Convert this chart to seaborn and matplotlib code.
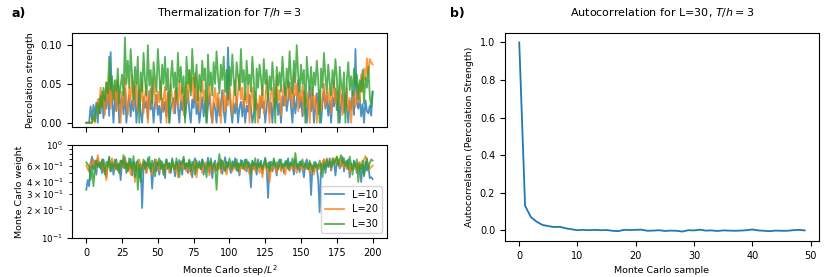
"""Thermalization and autocorrelation plots for the percolation Monte Carlo run."""


# Import libraries
import numpy as np
import pandas as pd
import matplotlib
matplotlib.use('Agg')
import matplotlib.pyplot as plt
import seaborn as sns


# Percolation strength per Monte Carlo step / L^2 (steps 0..200)
perc_L10 = [
    0.0, 0.0, 0.0, 0.021, 0.004, 0.023, 0.010, 0.026, 0.0, 0.031,
    0.012, 0.040, 0.006, 0.034, 0.018, 0.046, 0.009, 0.091, 0.028, 0.0,
    0.038, 0.015, 0.052, 0.0, 0.026, 0.033, 0.011, 0.044, 0.0, 0.021,
    0.035, 0.008, 0.029, 0.015, 0.048, 0.0, 0.022, 0.037, 0.012, 0.0,
    0.033, 0.019, 0.028, 0.005, 0.041, 0.017, 0.030, 0.0, 0.024, 0.036,
    0.010, 0.022, 0.0, 0.031, 0.014, 0.027, 0.008, 0.039, 0.0, 0.018,
    0.026, 0.032, 0.012, 0.045, 0.020, 0.0, 0.029, 0.016, 0.034, 0.006,
    0.023, 0.041, 0.015, 0.0, 0.030, 0.019, 0.046, 0.011, 0.025, 0.0,
    0.017, 0.033, 0.008, 0.028, 0.0, 0.021, 0.037, 0.013, 0.0, 0.026,
    0.018, 0.0, 0.031, 0.009, 0.024, 0.042, 0.015, 0.0, 0.028, 0.097,
    0.040, 0.016, 0.0, 0.025, 0.012, 0.033, 0.0, 0.019, 0.027, 0.008,
    0.030, 0.0, 0.022, 0.014, 0.036, 0.020, 0.0, 0.011, 0.029, 0.017,
    0.024, 0.006, 0.033, 0.019, 0.027, 0.0, 0.021, 0.038, 0.013, 0.026,
    0.0, 0.031, 0.018, 0.043, 0.010, 0.025, 0.0, 0.034, 0.022, 0.046,
    0.015, 0.030, 0.052, 0.020, 0.0, 0.037, 0.012, 0.028, 0.055, 0.019,
    0.033, 0.008, 0.041, 0.024, 0.0, 0.029, 0.047, 0.015, 0.036, 0.0,
    0.022, 0.038, 0.011, 0.030, 0.0, 0.026, 0.042, 0.018, 0.035, 0.009,
    0.028, 0.0, 0.033, 0.021, 0.044, 0.016, 0.030, 0.0, 0.025, 0.039,
    0.013, 0.034, 0.022, 0.0, 0.028, 0.017, 0.041, 0.010, 0.095, 0.026,
    0.018, 0.033, 0.008, 0.024, 0.0, 0.029, 0.015, 0.012, 0.022, 0.009,
    0.040]
perc_L20 = [
    0.0, 0.0, 0.0, 0.0, 0.0, 0.008, 0.0, 0.015, 0.030, 0.012,
    0.045, 0.020, 0.038, 0.010, 0.052, 0.025, 0.060, 0.018, 0.042, 0.030,
    0.048, 0.015, 0.055, 0.033, 0.0, 0.040, 0.022, 0.058, 0.028, 0.010,
    0.045, 0.030, 0.062, 0.020, 0.038, 0.052, 0.015, 0.043, 0.027, 0.055,
    0.012, 0.036, 0.048, 0.0, 0.030, 0.044, 0.021, 0.058, 0.035, 0.018,
    0.040, 0.026, 0.053, 0.015, 0.032, 0.047, 0.0, 0.038, 0.024, 0.050,
    0.030, 0.012, 0.042, 0.035, 0.020, 0.055, 0.028, 0.045, 0.010, 0.037,
    0.052, 0.025, 0.068, 0.040, 0.058, 0.030, 0.064, 0.022, 0.048, 0.015,
    0.035, 0.055, 0.028, 0.042, 0.010, 0.038, 0.050, 0.020, 0.0, 0.032,
    0.045, 0.018, 0.038, 0.025, 0.0, 0.030, 0.042, 0.015, 0.036, 0.022,
    0.048, 0.028, 0.010, 0.035, 0.055, 0.020, 0.040, 0.062, 0.030, 0.045,
    0.018, 0.038, 0.025, 0.050, 0.0, 0.032, 0.045, 0.015, 0.040, 0.028,
    0.0, 0.035, 0.020, 0.048, 0.012, 0.030, 0.055, 0.025, 0.0, 0.038,
    0.045, 0.018, 0.032, 0.060, 0.028, 0.042, 0.010, 0.035, 0.050, 0.022,
    0.038, 0.055, 0.030, 0.045, 0.020, 0.065, 0.035, 0.050, 0.015, 0.042,
    0.028, 0.048, 0.010, 0.035, 0.022, 0.040, 0.0, 0.030, 0.045, 0.018,
    0.035, 0.0, 0.025, 0.042, 0.015, 0.033, 0.050, 0.020, 0.038, 0.028,
    0.045, 0.012, 0.035, 0.055, 0.025, 0.040, 0.018, 0.048, 0.030, 0.010,
    0.038, 0.022, 0.045, 0.015, 0.032, 0.0, 0.028, 0.040, 0.020, 0.035,
    0.050, 0.025, 0.062, 0.040, 0.070, 0.055, 0.083, 0.060, 0.082, 0.078,
    0.075]
perc_L30 = [
    0.0, 0.0, 0.0, 0.0, 0.0, 0.010, 0.002, 0.018, 0.025, 0.012,
    0.035, 0.020, 0.045, 0.028, 0.052, 0.038, 0.085, 0.042, 0.060, 0.030,
    0.055, 0.040, 0.070, 0.025, 0.048, 0.062, 0.035, 0.110, 0.050, 0.080,
    0.045, 0.095, 0.060, 0.030, 0.072, 0.050, 0.085, 0.0, 0.065, 0.040,
    0.090, 0.055, 0.035, 0.100, 0.048, 0.068, 0.025, 0.078, 0.058, 0.040,
    0.095, 0.062, 0.030, 0.075, 0.050, 0.085, 0.042, 0.070, 0.0, 0.058,
    0.080, 0.045, 0.065, 0.030, 0.090, 0.052, 0.072, 0.038, 0.060, 0.0,
    0.085, 0.050, 0.068, 0.035, 0.095, 0.058, 0.045, 0.075, 0.028, 0.062,
    0.040, 0.080, 0.055, 0.070, 0.0, 0.088, 0.048, 0.065, 0.035, 0.078,
    0.050, 0.092, 0.060, 0.038, 0.075, 0.055, 0.085, 0.040, 0.068, 0.030,
    0.072, 0.048, 0.088, 0.055, 0.035, 0.078, 0.060, 0.042, 0.095, 0.052,
    0.068, 0.030, 0.080, 0.050, 0.062, 0.040, 0.085, 0.055, 0.0, 0.070,
    0.045, 0.075, 0.058, 0.035, 0.082, 0.050, 0.068, 0.028, 0.060, 0.042,
    0.078, 0.052, 0.0, 0.072, 0.048, 0.065, 0.040, 0.085, 0.055, 0.035,
    0.070, 0.045, 0.092, 0.058, 0.038, 0.080, 0.052, 0.100, 0.062, 0.040,
    0.075, 0.050, 0.068, 0.0, 0.085, 0.058, 0.042, 0.072, 0.035, 0.065,
    0.048, 0.080, 0.055, 0.0, 0.070, 0.045, 0.090, 0.060, 0.038, 0.075,
    0.052, 0.035, 0.068, 0.045, 0.082, 0.058, 0.0, 0.072, 0.050, 0.040,
    0.065, 0.0, 0.055, 0.078, 0.042, 0.060, 0.035, 0.070, 0.048, 0.062,
    0.030, 0.055, 0.040, 0.068, 0.025, 0.058, 0.045, 0.072, 0.035, 0.020,
    0.040]

# Monte Carlo weight per step (steps 0..200)
weight_L10 = [
    0.33, 0.42, 0.36, 0.62, 0.75, 0.55, 0.68, 0.48, 0.72, 0.58,
    0.65, 0.50, 0.70, 0.55, 0.45, 0.62, 0.73, 0.52, 0.66, 0.48,
    0.60, 0.70, 0.53, 0.64, 0.42, 0.68, 0.57, 0.74, 0.50, 0.63,
    0.55, 0.71, 0.47, 0.66, 0.58, 0.52, 0.69, 0.45, 0.62, 0.21,
    0.58, 0.67, 0.50, 0.72, 0.56, 0.63, 0.34, 0.60, 0.70, 0.52,
    0.65, 0.48, 0.68, 0.57, 0.62, 0.44, 0.70, 0.55, 0.64, 0.50,
    0.72, 0.58, 0.46, 0.66, 0.53, 0.69, 0.60, 0.48, 0.71, 0.56,
    0.63, 0.50, 0.68, 0.57, 0.45, 0.65, 0.72, 0.52, 0.60, 0.67,
    0.55, 0.70, 0.48, 0.62, 0.58, 0.73, 0.51, 0.66, 0.44, 0.60,
    0.68, 0.53, 0.64, 0.57, 0.70, 0.49, 0.62, 0.74, 0.55, 0.65,
    0.58, 0.50, 0.67, 0.60, 0.72, 0.53, 0.64, 0.47, 0.69, 0.56,
    0.62, 0.70, 0.52, 0.66, 0.58, 0.35, 0.68, 0.55, 0.63, 0.48,
    0.70, 0.57, 0.65, 0.50, 0.62, 0.73, 0.55, 0.27, 0.66, 0.58,
    0.52, 0.68, 0.60, 0.47, 0.64, 0.70, 0.55, 0.62, 0.50, 0.67,
    0.58, 0.72, 0.53, 0.65, 0.60, 0.48, 0.69, 0.56, 0.63, 0.51,
    0.67, 0.58, 0.45, 0.62, 0.70, 0.55, 0.64, 0.29, 0.60, 0.52,
    0.66, 0.57, 0.42, 0.19, 0.63, 0.55, 0.70, 0.50, 0.65, 0.58,
    0.72, 0.53, 0.62, 0.68, 0.47, 0.64, 0.70, 0.56, 0.60, 0.74,
    0.52, 0.66, 0.58, 0.70, 0.45, 0.63, 0.55, 0.68, 0.60, 0.50,
    0.64, 0.57, 0.40, 0.62, 0.48, 0.66, 0.53, 0.60, 0.44, 0.45,
    0.43]
weight_L20 = [
    0.60, 0.55, 0.52, 0.65, 0.58, 0.70, 0.62, 0.56, 0.78, 0.64,
    0.58, 0.68, 0.52, 0.62, 0.42, 0.60, 0.66, 0.55, 0.72, 0.60,
    0.54, 0.65, 0.58, 0.50, 0.68, 0.62, 0.57, 0.73, 0.60, 0.52,
    0.66, 0.48, 0.62, 0.58, 0.40, 0.64, 0.55, 0.70, 0.60, 0.53,
    0.65, 0.58, 0.50, 0.67, 0.62, 0.55, 0.48, 0.63, 0.57, 0.70,
    0.60, 0.53, 0.66, 0.58, 0.48, 0.62, 0.56, 0.64, 0.50, 0.60,
    0.57, 0.65, 0.52, 0.60, 0.45, 0.62, 0.58, 0.68, 0.55, 0.60,
    0.52, 0.64, 0.58, 0.48, 0.62, 0.55, 0.66, 0.45, 0.60, 0.57,
    0.63, 0.50, 0.58, 0.65, 0.55, 0.60, 0.47, 0.62, 0.57, 0.52,
    0.64, 0.58, 0.55, 0.62, 0.50, 0.60, 0.66, 0.54, 0.48, 0.60,
    0.57, 0.63, 0.52, 0.60, 0.55, 0.66, 0.58, 0.50, 0.62, 0.56,
    0.60, 0.53, 0.65, 0.58, 0.48, 0.62, 0.55, 0.60, 0.52, 0.64,
    0.57, 0.50, 0.62, 0.45, 0.58, 0.65, 0.53, 0.60, 0.40, 0.56,
    0.62, 0.55, 0.60, 0.50, 0.58, 0.64, 0.52, 0.60, 0.56, 0.48,
    0.62, 0.57, 0.53, 0.60, 0.55, 0.65, 0.58, 0.50, 0.62, 0.57,
    0.60, 0.53, 0.58, 0.64, 0.55, 0.60, 0.50, 0.62, 0.57, 0.48,
    0.60, 0.55, 0.62, 0.58, 0.52, 0.65, 0.70, 0.60, 0.72, 0.65,
    0.60, 0.55, 0.68, 0.72, 0.63, 0.75, 0.66, 0.58, 0.70, 0.62,
    0.57, 0.65, 0.55, 0.60, 0.50, 0.63, 0.58, 0.55, 0.62, 0.52,
    0.60, 0.66, 0.55, 0.62, 0.70, 0.76, 0.68, 0.60, 0.55, 0.58,
    0.60]
weight_L30 = [
    0.65, 0.62, 0.58, 0.42, 0.60, 0.36, 0.55, 0.68, 0.58, 0.64,
    0.55, 0.70, 0.60, 0.48, 0.66, 0.58, 0.75, 0.52, 0.63, 0.57,
    0.70, 0.55, 0.62, 0.50, 0.68, 0.60, 0.78, 0.56, 0.65, 0.52,
    0.72, 0.60, 0.55, 0.76, 0.45, 0.66, 0.33, 0.62, 0.40, 0.58,
    0.70, 0.55, 0.64, 0.60, 0.75, 0.52, 0.68, 0.58, 0.46, 0.65,
    0.60, 0.72, 0.55, 0.66, 0.48, 0.62, 0.70, 0.57, 0.64, 0.52,
    0.68, 0.60, 0.55, 0.72, 0.58, 0.45, 0.66, 0.62, 0.75, 0.55,
    0.64, 0.58, 0.70, 0.52, 0.66, 0.60, 0.48, 0.68, 0.57, 0.63,
    0.55, 0.70, 0.62, 0.58, 0.45, 0.66, 0.60, 0.72, 0.55, 0.64,
    0.58, 0.33, 0.62, 0.80, 0.55, 0.68, 0.60, 0.52, 0.66, 0.58,
    0.72, 0.60, 0.55, 0.65, 0.58, 0.70, 0.52, 0.63, 0.60, 0.68,
    0.55, 0.62, 0.70, 0.58, 0.64, 0.50, 0.66, 0.60, 0.72, 0.56,
    0.63, 0.58, 0.68, 0.55, 0.62, 0.70, 0.57, 0.64, 0.52, 0.66,
    0.60, 0.72, 0.58, 0.65, 0.55, 0.62, 0.70, 0.57, 0.63, 0.60,
    0.68, 0.55, 0.64, 0.60, 0.72, 0.58, 0.82, 0.62, 0.55, 0.66,
    0.60, 0.70, 0.57, 0.64, 0.58, 0.55, 0.68, 0.60, 0.52, 0.65,
    0.58, 0.62, 0.55, 0.68, 0.60, 0.45, 0.64, 0.57, 0.70, 0.60,
    0.66, 0.58, 0.72, 0.62, 0.68, 0.75, 0.60, 0.70, 0.78, 0.64,
    0.72, 0.60, 0.68, 0.55, 0.75, 0.62, 0.48, 0.66, 0.58, 0.70,
    0.40, 0.62, 0.55, 0.68, 0.46, 0.60, 0.72, 0.56, 0.64, 0.70,
    0.68]

# Autocorrelation of the percolation strength for L=30 (lags 0..49)
autocorr_L30 = [
    1.0, 0.13, 0.07, 0.045, 0.028, 0.022, 0.017, 0.018, 0.010, 0.005,
    0.0, 0.002, 0.0, 0.002, 0.0, 0.001, -0.003, -0.005, 0.002, 0.001,
    0.002, 0.003, -0.003, -0.002, 0.0, -0.004, -0.002, -0.003, -0.007, 0.0,
    -0.001, 0.003, -0.002, -0.001, -0.004, -0.001, -0.002, -0.003, -0.002, 0.0,
    0.004, -0.001, -0.003, -0.005, -0.002, -0.003, -0.003, 0.0, 0.002, -0.001]

sizes = ['L=10', 'L=20', 'L=30']
perc_ticks = [0.0, 0.05, 0.10]
steps = np.arange(len(perc_L10))
lags = np.arange(len(autocorr_L30))


# Build long-format tables for seaborn
perc_df = pd.DataFrame({
    'step': np.tile(steps, 3),
    'value': perc_L10 + perc_L20 + perc_L30,
    'size': np.repeat(sizes, len(steps))})
weight_df = pd.DataFrame({
    'step': np.tile(steps, 3),
    'value': weight_L10 + weight_L20 + weight_L30,
    'size': np.repeat(sizes, len(steps))})

palette = sns.color_palette('tab10', 3)
fs_tick = 7
fs_label = 6.8
fs_title = 8

fig = plt.figure(figsize=(8.3, 2.77), dpi=100)
ax_perc = fig.add_axes([0.0867, 0.5415, 0.3795, 0.339])
ax_wt = fig.add_axes([0.0867, 0.1408, 0.3795, 0.3357], sharex=ax_perc)
ax_ac = fig.add_axes([0.6084, 0.1300, 0.3783, 0.7509])

# Top left: percolation strength
sns.lineplot(data=perc_df, x='step', y='value', hue='size', palette=palette,
             ax=ax_perc, lw=1.3, alpha=0.8, legend=False)
ax_perc.set_yticks(perc_ticks)
ax_perc.set_xlabel('')
ax_perc.set_ylabel('Percolation strength', fontsize=fs_label)
ax_perc.tick_params(labelbottom=False, labelsize=fs_tick)
ax_perc.set_title(r'Thermalization for $T/h = 3$', fontsize=fs_title, pad=12)

# Bottom left: Monte Carlo weight on log scale
sns.lineplot(data=weight_df, x='step', y='value', hue='size', palette=palette,
             ax=ax_wt, lw=1.3, alpha=0.8)
ax_wt.set_yscale('log')
ax_wt.set_ylim(0.1, 1.0)
ax_wt.set_xlabel(r'Monte Carlo step/$L^2$', fontsize=fs_label)
ax_wt.set_ylabel('Monte Carlo weight', fontsize=fs_label, labelpad=2)
ax_wt.tick_params(axis='x', labelsize=fs_tick)
ax_wt.tick_params(axis='y', which='both', labelsize=6.3)
ax_wt.legend(loc='lower right', fontsize=7, title=None)

# Right: autocorrelation
sns.lineplot(x=lags, y=autocorr_L30, ax=ax_ac, lw=1.3, color=palette[0])
ax_ac.set_xlabel('Monte Carlo sample', fontsize=fs_label)
ax_ac.set_ylabel('Autocorrelation (Percolation Strength)', fontsize=fs_label)
ax_ac.tick_params(labelsize=fs_tick)
ax_ac.set_title(r'Autocorrelation for L=30, $T/h = 3$', fontsize=fs_title, pad=12)

# Panel labels
fig.text(0.014, 0.95, 'a)', fontsize=9, fontweight='bold', va='center')
fig.text(0.542, 0.95, 'b)', fontsize=9, fontweight='bold', va='center')

fig.savefig('out.png', dpi=100)
